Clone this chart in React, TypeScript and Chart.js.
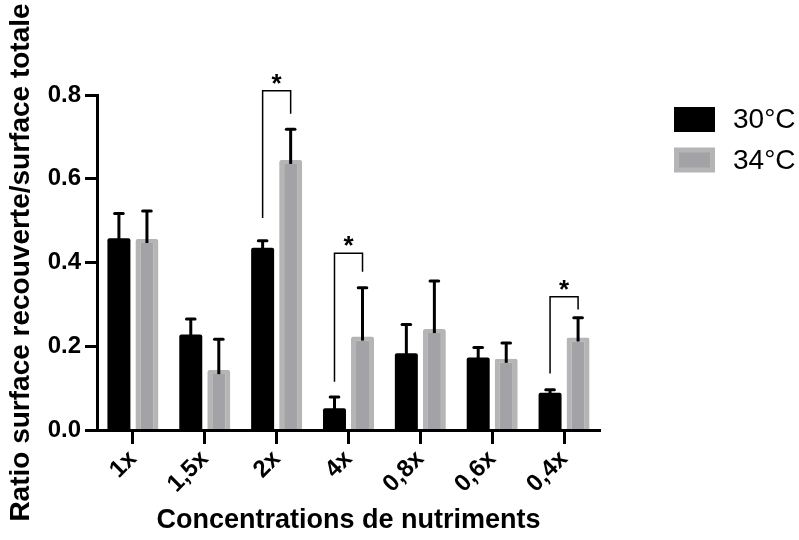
import React, { useEffect, useRef } from "react";
import { Chart, registerables } from "chart.js";

Chart.register(...registerables);

const categories = ["1x", "1,5x", "2x", "4x", "0,8x", "0,6x", "0,4x"];
const seriesLabels = ["30°C", "34°C"];
const mean30 = [0.458, 0.228, 0.435, 0.052, 0.183, 0.173, 0.089];
const err30 = [0.059, 0.037, 0.017, 0.027, 0.069, 0.024, 0.007];
const mean34 = [0.456, 0.143, 0.645, 0.223, 0.241, 0.17, 0.221];
const err34 = [0.067, 0.074, 0.073, 0.117, 0.115, 0.038, 0.047];
const yTicks = [0, 0.2, 0.4, 0.6, 0.8];

// significance brackets
const sigIndex = [2, 3, 6];
const sigTop = [0.81, 0.422, 0.318];
const sigLeftBottom = [0.506, 0.115, 0.135];
const sigRightBottom = [0.755, 0.378, 0.288];
const sigText = ["*", "*", "*"];

const FONT = "'Liberation Sans', Arial, Helvetica, sans-serif";

const errorBarPlugin = {
  id: "errorBars",
  afterDatasetsDraw(chart: any) {
    const ctx = chart.ctx;
    const y = chart.scales.y;
    chart.data.datasets.forEach((ds: any, di: number) => {
      const meta = chart.getDatasetMeta(di);
      meta.data.forEach((bar: any, i: number) => {
        const base = y.getPixelForValue(ds.data[i]);
        const top = y.getPixelForValue(ds.data[i] + ds.errors[i]);
        ctx.save();
        ctx.strokeStyle = "#000";
        ctx.lineWidth = 3;
        ctx.lineCap = "butt";
        ctx.beginPath();
        ctx.moveTo(bar.x, base + 4);
        ctx.lineTo(bar.x, top);
        ctx.stroke();
        ctx.lineCap = "round";
        ctx.beginPath();
        ctx.moveTo(bar.x - 4.3, top);
        ctx.lineTo(bar.x + 4.3, top);
        ctx.stroke();
        ctx.restore();
      });
    });
  },
};

const bracketPlugin = {
  id: "brackets",
  afterDatasetsDraw(chart: any) {
    const ctx = chart.ctx;
    const y = chart.scales.y;
    const m0 = chart.getDatasetMeta(0);
    const m1 = chart.getDatasetMeta(1);
    sigIndex.forEach((idx, k) => {
      const xl = m0.data[idx].x;
      const xr = m1.data[idx].x;
      const yt = y.getPixelForValue(sigTop[k]);
      const yl = y.getPixelForValue(sigLeftBottom[k]);
      const yr = y.getPixelForValue(sigRightBottom[k]);
      ctx.save();
      ctx.strokeStyle = "#000";
      ctx.lineWidth = 1.5;
      ctx.beginPath();
      ctx.moveTo(xl, yl);
      ctx.lineTo(xl, yt);
      ctx.lineTo(xr, yt);
      ctx.lineTo(xr, yr);
      ctx.stroke();
      ctx.fillStyle = "#000";
      ctx.font = `bold 26px ${FONT}`;
      ctx.textAlign = "center";
      ctx.textBaseline = "alphabetic";
      ctx.fillText(sigText[k], (xl + xr) / 2, yt + 1);
      ctx.restore();
    });
  },
};

const legendPlugin = {
  id: "customLegend",
  afterDraw(chart: any, _args: any, opts: any) {
    const ctx = chart.ctx;
    chart.data.datasets.forEach((ds: any, i: number) => {
      const x = opts.x;
      const top = opts.y + i * opts.spacing;
      ctx.save();
      if (ds.legendBorder) {
        ctx.fillStyle = ds.borderColor;
        ctx.fillRect(x, top, opts.boxW, opts.boxH);
        ctx.fillStyle = ds.backgroundColor;
        ctx.fillRect(x + 5, top + 5, opts.boxW - 10, opts.boxH - 10);
      } else {
        ctx.fillStyle = ds.backgroundColor;
        ctx.fillRect(x, top, opts.boxW, opts.boxH);
      }
      ctx.fillStyle = "#000";
      ctx.font = `28px ${FONT}`;
      ctx.textAlign = "left";
      ctx.textBaseline = "middle";
      ctx.fillText(ds.label, opts.textX, top + opts.boxH / 2 + 1);
      ctx.restore();
    });
  },
};

export default function App() {
  const ref = useRef<HTMLCanvasElement | null>(null);

  useEffect(() => {
    if (!ref.current) return;
    Chart.defaults.font.family = FONT;
    const chart = new Chart(ref.current, {
      type: "bar",
      data: {
        labels: categories,
        datasets: [
          {
            label: seriesLabels[0],
            data: mean30,
            errors: err30,
            backgroundColor: "#000000",
            borderWidth: 0,
            borderRadius: 2,
            categoryPercentage: 0.78,
            barPercentage: 0.82,
          } as any,
          {
            label: seriesLabels[1],
            data: mean34,
            errors: err34,
            backgroundColor: "#a3a3a7",
            borderColor: "#b5b5b5",
            borderWidth: { top: 4, left: 5, right: 5, bottom: 0 },
            borderSkipped: "bottom",
            borderRadius: 2,
            legendBorder: true,
            categoryPercentage: 0.78,
            barPercentage: 0.82,
          } as any,
        ],
      },
      options: {
        responsive: false,
        animation: false,
        devicePixelRatio: 1,
        layout: { padding: { top: 95, right: 199, left: 0, bottom: 0 } },
        plugins: {
          legend: { display: false },
          tooltip: { enabled: false },
          customLegend: { x: 674, y: 107, spacing: 40.5, boxW: 41, boxH: 25, textX: 733 },
        } as any,
        scales: {
          x: {
            grid: {
              offset: false,
              drawOnChartArea: false,
              drawTicks: true,
              tickLength: 14,
              tickWidth: 3,
              tickColor: "#000",
            },
            border: { display: true, width: 3, color: "#000", z: 1 },
            ticks: {
              font: { size: 24, weight: "bold" },
              color: "#000",
              maxRotation: 45,
              minRotation: 45,
              padding: 1,
              autoSkip: false,
            },
            title: {
              display: true,
              text: "Concentrations de nutriments",
              font: { size: 27, weight: "bold" },
              color: "#000",
              padding: { top: 0, bottom: 3 },
            },
            afterFit: (s: any) => {
              s.height = 110;
            },
          },
          y: {
            min: 0,
            max: 0.8,
            afterBuildTicks: (s: any) => {
              s.ticks = yTicks.map((v) => ({ value: v }));
            },
            ticks: {
              font: { size: 24, weight: "bold" },
              color: "#000",
              padding: 4,
              callback: (v: any) => Number(v).toFixed(1),
            },
            grid: {
              drawOnChartArea: false,
              drawTicks: true,
              tickLength: 12,
              tickWidth: 3,
              tickColor: "#000",
            },
            border: { display: true, width: 3, color: "#000", z: 1 },
            title: {
              display: true,
              text: "Ratio surface recouverte/surface totale",
              font: { size: 28, weight: "bold" },
              color: "#000",
              padding: { top: 4, bottom: 0 },
            },
            afterFit: (s: any) => {
              s.width = 97;
            },
          },
        },
      } as any,
      plugins: [errorBarPlugin, bracketPlugin, legendPlugin],
    });
    return () => chart.destroy();
  }, []);

  return (
    <div style={{ position: "absolute", left: 0, top: 0, width: 799, height: 540, background: "#fff" }}>
      <canvas ref={ref} width={799} height={540} />
    </div>
  );
}
